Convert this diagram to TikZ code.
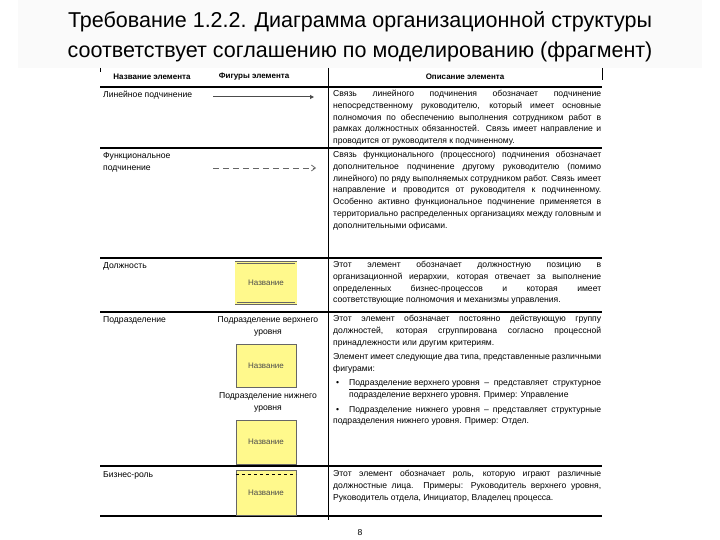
\documentclass[tikz,border=0pt]{standalone}
\usepackage{fontspec}
\setmainfont{Liberation Sans}
\usetikzlibrary{arrows.meta}
\begin{document}
\begin{tikzpicture}[x=1pt,y=-1pt,
  desc/.style={anchor=north west,inner sep=0pt,text width=268pt,align=justify,font=\fontsize{8.6}{11.8}\selectfont},
  lbl/.style={anchor=north west,inner sep=0pt,align=left,font=\fontsize{8.6}{12.4}\selectfont},
  captext/.style={anchor=north,inner sep=0pt,align=center,font=\fontsize{8.6}{12.4}\selectfont},
  hdr/.style={inner sep=0pt,font=\bfseries\fontsize{8}{10}\selectfont},
  ybox/.style={draw=black!60,fill=yellow!45,minimum width=60pt,inner sep=0pt,font=\fontsize{8}{10}\selectfont,text=black!70},
  rule/.style={line width=1.1pt}]
\useasboundingbox (0,0) rectangle (720,540);
\fill[black!2] (18,0) rectangle (702,68);
\node[font=\fontsize{21.5}{30}\selectfont,align=center] (title) at (360,37) {Требование 1.2.2. Диаграмма организационной структуры\\соответствует соглашению по моделированию (фрагмент)};
% table lines
\draw[rule] (100,87) -- (602,87);
\draw[rule] (100,148) -- (602,148);
\draw[rule] (100,258) -- (602,258);
\draw[rule] (100,312) -- (602,312);
\draw[rule] (100,466) -- (602,466);
\draw[rule] (100,516) -- (602,516);
\draw[line width=0.8pt] (328,68) -- (328,520);
\draw[line width=0.6pt] (602,68) -- (602,80);
\draw[line width=0.6pt] (100,68) -- (100,72);
% header
\node[hdr] (h1) at (152,77) {Название элемента};
\node[hdr] (h2) at (254,77) {Фигуры элемента};
\node[hdr] (h3) at (465,77) {Описание элемента};
% row 1
\node[lbl] (l1) at (103,91) {Линейное подчинение};
\coordinate (a1s) at (213,97); \coordinate (a1e) at (314,97);
\draw[line width=1pt,black!70,-{Triangle[length=4pt,width=4pt]}] (a1s) -- (a1e);
\node[desc] (d1) at (333,90) {Связь линейного подчинения обозначает подчинение непосредственному руководителю, который имеет основные полномочия по обеспечению выполнения сотрудником работ в рамках должностных обязанностей. Связь имеет направление и проводится от руководителя к подчиненному.};
% row 2
\node[lbl] (l2) at (103,152) {Функциональное\\подчинение};
\coordinate (a2s) at (213,168); \coordinate (a2e) at (316,168);
\draw[line width=0.8pt,black!60,dash pattern=on 6pt off 4pt,-{Straight Barb[length=4pt,width=6pt]}] (a2s) -- (a2e);
\node[desc] (d2) at (333,151) {Связь функционального (процессного) подчинения обозначает дополнительное подчинение другому руководителю (помимо линейного) по ряду выполняемых сотрудником работ. Связь имеет направление и проводится от руководителя к подчиненному. Особенно активно функциональное подчинение применяется в территориально распределенных организациях между головным и дополнительными офисами.};
% row 3
\node[lbl] (l3) at (103,262) {Должность};
\node[ybox,minimum height=41pt,double=yellow!45,double distance=1.5pt] (b3) at (266,283) {Название};
\node[desc] (d3) at (333,261) {Этот элемент обозначает должностную позицию в организационной иерархии, которая отвечает за выполнение определенных бизнес-процессов и которая имеет соответствующие полномочия и механизмы управления.};
% row 4
\node[lbl] (l4) at (103,316) {Подразделение};
\node[captext] (c41) at (268,316) {Подразделение верхнего\\уровня};
\node[ybox,minimum height=43pt,line width=0.8pt] (b41) at (266,366) {Название};
\node[captext] (c42) at (268,392) {Подразделение нижнего\\уровня};
\node[ybox,minimum height=44pt] (b42) at (266,442) {Название};
\node[desc] (d4) at (333,315) {Этот элемент обозначает постоянно действующую группу должностей, которая сгруппирована согласно процессной принадлежности или другим критериям.\par\vspace{3pt}
Элемент имеет следующие два типа, представленные различными фигурами:\par\vspace{2pt}
\noindent\hangindent=16pt\hangafter=1\makebox[16pt][l]{\hspace{3pt}\textbullet}\underline{Подразделение верхнего уровня} – представляет структурное подразделение верхнего уровня. Пример: Управление\par\vspace{3pt}
\noindent\hangindent=16pt\hangafter=1\makebox[16pt][l]{\hspace{3pt}\textbullet}Подразделение нижнего уровня – представляет структурные подразделения нижнего уровня. Пример: Отдел.};
% row 5
\node[lbl] (l5) at (103,471) {Бизнес-роль};
\node[ybox,minimum height=45pt] (b5) at (266,493) {Название};
\draw[dashed,line width=0.6pt] (b5.north west) ++(0,4) -- ++(60,0);
\node[desc] (d5) at (333,470) {Этот элемент обозначает роль, которую играют различные должностные лица. Примеры: Руководитель верхнего уровня, Руководитель отдела, Инициатор, Владелец процесса.};
\node[font=\fontsize{8.6}{10}\selectfont] (pg) at (360,533) {8};
\end{tikzpicture}
\end{document}
